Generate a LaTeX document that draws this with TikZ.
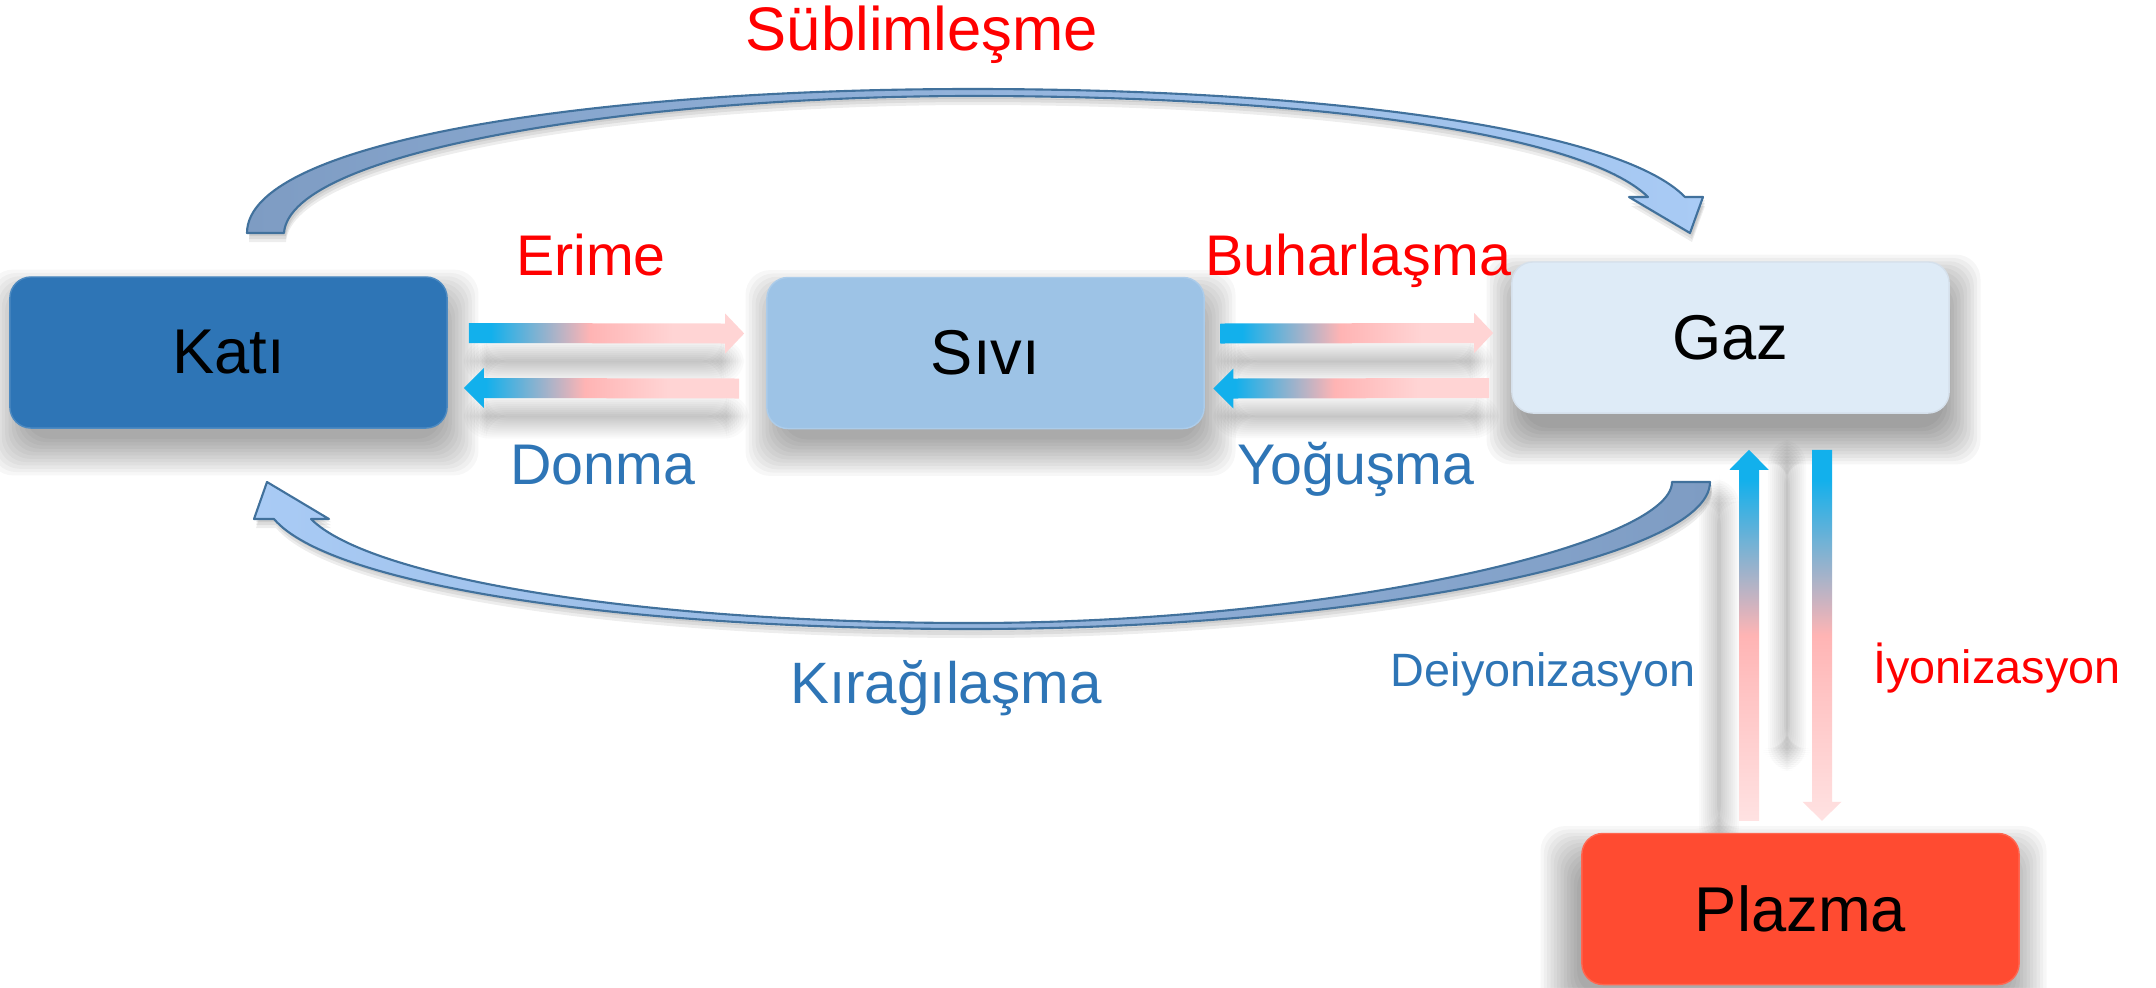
\documentclass[tikz,border=0pt]{standalone}
\usepackage{fontspec}
\setmainfont{Liberation Sans}
\usetikzlibrary{calc}
\pgfdeclarelayer{paper}
\pgfdeclarelayer{shadowlayer}
\pgfsetlayers{paper,shadowlayer,main}
\definecolor{katic}{HTML}{2E75B6}
\definecolor{sivic}{HTML}{9DC3E6}
\definecolor{gazc}{HTML}{DEEBF7}
\definecolor{plazc}{HTML}{FF4B31}
\definecolor{lblred}{HTML}{FF0000}
\definecolor{lblblue}{HTML}{2E75B6}
\definecolor{arrblue}{HTML}{12B0EC}
\definecolor{arrpink}{HTML}{FFB4B4}
\definecolor{arrmid}{HTML}{FFC4C4}
\definecolor{arrlight}{HTML}{FFD4D4}
\definecolor{arrlighter}{HTML}{FFE2E2}
\definecolor{arcdark}{HTML}{7E9CC3}
\definecolor{arclight}{HTML}{A9CBF5}
\definecolor{arcline}{HTML}{41719C}
\pgfdeclarehorizontalshading{hgrad}{100bp}{color(0bp)=(arrblue); color(25bp)=(arrblue); color(29bp)=(arrblue); color(47bp)=(arrpink); color(62bp)=(arrlight); color(75bp)=(arrlight); color(100bp)=(arrlight)}
\pgfdeclareverticalshading{vgrad}{100bp}{color(0bp)=(arrlighter); color(25bp)=(arrlighter); color(42bp)=(arrmid); color(50bp)=(arrpink); color(71bp)=(arrblue); color(75bp)=(arrblue); color(100bp)=(arrblue)}
\tikzset{
  box/.style={rounded corners=6pt, minimum width=4.37cm, minimum height=1.51cm,
    font=\fontsize{18}{20}\selectfont, text=black, inner sep=0pt},
  lbl/.style={anchor=base, inner sep=0pt, font=\fontsize{16.3}{18}\selectfont},
  smalllbl/.style={anchor=base, inner sep=0pt, font=\fontsize{13.3}{15}\selectfont},
  arcstyle/.style={draw=arcline, line width=0.6pt, line join=round}
}
% soft shadow: corner a, corner b, spread (px), opacity per layer
\newcommand\softrect[4]{\foreach \k in {1,...,12}{\fill[black, opacity=#4, rounded corners=7pt] ($#1+({-#3+#3*\k/6},{-#3+#3*\k/6})$) rectangle ($#2+({#3-#3*\k/6},{#3-#3*\k/6})$);}}
\newcommand\rightblock[2]{\shade[shading=hgrad] ($(#1)+(0,-10)$) -- ($(#2)+(-19,-10)$) -- ($(#2)+(-19,-20)$) -- (#2) -- ($(#2)+(-19,20)$) -- ($(#2)+(-19,10)$) -- ($(#1)+(0,10)$) -- cycle;}
\newcommand\leftblock[2]{\shade[shading=hgrad] (#1) -- ($(#1)+(20,-20)$) -- ($(#1)+(20,-10)$) -- ($(#2)+(0,-10)$) -- ($(#2)+(0,10)$) -- ($(#1)+(20,10)$) -- ($(#1)+(20,20)$) -- cycle;}
\newcommand\upblock[2]{\shade[shading=vgrad] (#1) -- ($(#1)+(19.5,20)$) -- ($(#1)+(10,20)$) -- ($(#2)+(10,0)$) -- ($(#2)+(-10,0)$) -- ($(#1)+(-10,20)$) -- ($(#1)+(-19.5,20)$) -- cycle;}
\newcommand\downblock[2]{\shade[shading=vgrad] ($(#1)+(-10,0)$) -- ($(#1)+(10,0)$) -- ($(#2)+(10,-19)$) -- ($(#2)+(19.5,-19)$) -- (#2) -- ($(#2)+(-19.5,-19)$) -- ($(#2)+(-10,-19)$) -- cycle;}
\newcommand\toparc{(247,233) .. controls (247,140) and (600,89) .. (972,89)
  .. controls (1330,89) and (1620,130) .. (1685,197)
  -- (1703,197) -- (1690,233) -- (1629,197) -- (1648,197)
  .. controls (1585,135) and (1320,96) .. (972,96)
  .. controls (640,96) and (290,150) .. (284,233) -- cycle}
\newcommand\botarc{(1710,482) .. controls (1710,560) and (1350,629) .. (972,629)
  .. controls (620,629) and (330,585) .. (274,519)
  -- (254,519) -- (267,482) -- (329,519) -- (311,519)
  .. controls (370,578) and (640,623) .. (972,623)
  .. controls (1330,623) and (1672,545) .. (1672,482) -- cycle}
\begin{document}
\begin{tikzpicture}[x=0.01cm, y=-0.01cm]
\begin{pgfonlayer}{paper}
\fill[white] (0,0) rectangle (2156,987);
\end{pgfonlayer}
\useasboundingbox (0,0) rectangle (2156,987);

% curved arrows (with soft shadows)
\begin{pgfonlayer}{shadowlayer}
\foreach \d in {3,6,9}{
  \fill[black, opacity=0.07, shift={(2,\d)}] \toparc;
  \fill[black, opacity=0.07, shift={(2,\d)}] \botarc;
}
\end{pgfonlayer}
\shade[arcstyle, left color=arcdark, right color=arclight] \toparc;
\shade[arcstyle, left color=arclight, right color=arcdark] \botarc;

% boxes
\node[box, fill=katic, draw=katic!85!white] (kati) at (228.5,352.5) {Katı};
\node[box, fill=sivic, draw=sivic!85!white] (sivi) at (985.5,353) {Sıvı};
\node[box, fill=gazc, draw=gazc!90!gray] (gaz) at (1730.5,337.5) {Gaz};
\node[box, fill=plazc, draw=plazc!85!white] (plazma) at (1800.5,909) {Plazma};

% horizontal arrows
\coordinate (erS) at ($(kati.east)+(21,-19.5)$);
\coordinate (erE) at ($(sivi.west)+(-22,-19.5)$);
\coordinate (doT) at ($(kati.east)+(16,35.5)$);
\coordinate (doE) at ($(sivi.west)+(-27,35.5)$);
\coordinate (buS) at ($(sivi.east)+(15.5,-19.5)$);
\coordinate (buE) at ($(gaz.west)+(-18,-4.5)$);
\coordinate (yoT) at ($(sivi.east)+(8.5,35.5)$);
\coordinate (yoE) at ($(gaz.west)+(-22,50.5)$);
\rightblock{erS}{erE}
\leftblock{doT}{doE}
\rightblock{buS}{buE}
\leftblock{yoT}{yoE}

% vertical arrows
\coordinate (deT) at ($(gaz.south)+(18.5,36)$);
\coordinate (deE) at ($(plazma.north)+(-51.5,-12)$);
\coordinate (iyS) at ($(gaz.south)+(91.5,36)$);
\coordinate (iyT) at ($(plazma.north)+(21.5,-12)$);
\upblock{deT}{deE}
\downblock{iyS}{iyT}

% soft shadows of boxes and arrows
\begin{pgfonlayer}{shadowlayer}
\softrect{($(kati.north west)+(-4,10)$)}{($(kati.south east)+(14,30)$)}{20}{0.032}
\softrect{($(sivi.north west)+(-4,10)$)}{($(sivi.south east)+(14,30)$)}{20}{0.032}
\softrect{($(gaz.north west)+(-8,10)$)}{($(gaz.south east)+(14,34)$)}{20}{0.034}
\softrect{($(plazma.north west)+(-24,10)$)}{($(plazma.south east)+(10,30)$)}{20}{0.032}
\softrect{($(erS)+(5,16)$)}{($(erE)+(-10,40)$)}{12}{0.018}
\softrect{($(doT)+(10,16)$)}{($(doE)+(0,40)$)}{12}{0.018}
\softrect{($(buS)+(5,16)$)}{($(buE)+(-10,40)$)}{12}{0.018}
\softrect{($(yoT)+(10,16)$)}{($(yoE)+(0,40)$)}{12}{0.018}
\softrect{($(deT)+(-40,40)$)}{($(deE)+(-20,20)$)}{12}{0.02}
\softrect{($(iyS)+(-44,0)$)}{($(iyT)+(-26,-60)$)}{12}{0.02}
\end{pgfonlayer}

% labels
\node[lbl, text=lblred, font=\fontsize{17.5}{20}\selectfont] (subl) at (922,50) {Süblimleşme};
\node[lbl, text=lblred] (erime) at (591,275) {Erime};
\node[lbl, text=lblred] (buhar) at (1358,275) {Buharlaşma};
\node[lbl, text=lblblue] (donma) at (603,484) {Donma};
\node[lbl, text=lblblue] (yogus) at (1356,484) {Yoğuşma};
\node[lbl, text=lblblue, font=\fontsize{16.6}{18}\selectfont] (kirag) at (946,703) {Kırağılaşma};
\node[smalllbl, text=lblblue] (deiyon) at (1543,686) {Deiyonizasyon};
\node[smalllbl, text=lblred] (iyon) at (1997,683) {İyonizasyon};
\end{tikzpicture}
\end{document}
